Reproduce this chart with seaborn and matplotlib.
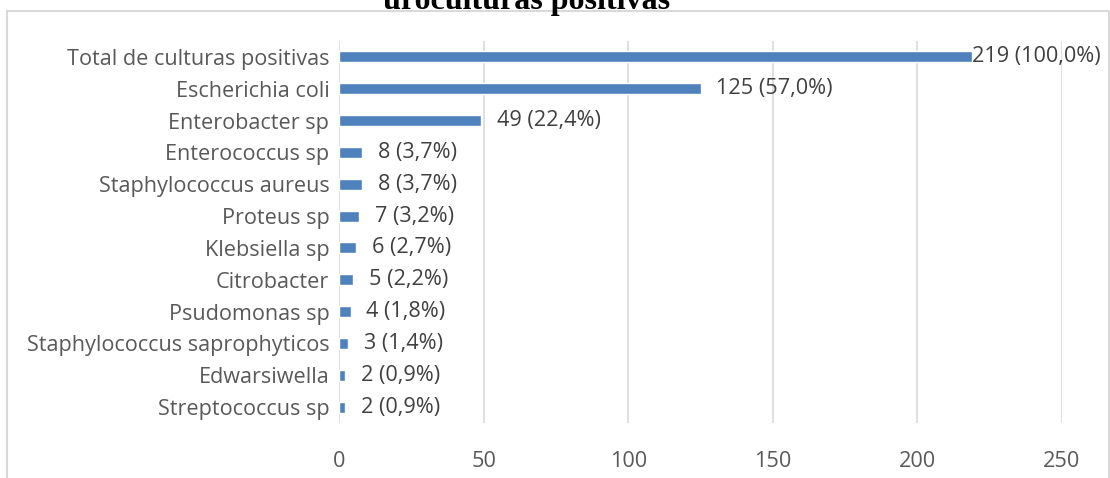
import matplotlib
matplotlib.use("Agg")
import matplotlib.pyplot as plt
import seaborn as sns
import pandas as pd
from matplotlib.patches import Rectangle

categories = ["Total de culturas positivas", "Escherichia coli", "Enterobacter sp",
              "Enterococcus sp", "Staphylococcus aureus", "Proteus sp", "Klebsiella sp",
              "Citrobacter", "Psudomonas sp", "Staphylococcus saprophyticos",
              "Edwarsiwella", "Streptococcus sp"]
counts = [219, 125, 49, 8, 8, 7, 6, 5, 4, 3, 2, 2]
labels = ["219 (100,0%)", "125 (57,0%)", "49 (22,4%)", "8 (3,7%)", "8 (3,7%)",
          "7 (3,2%)", "6 (2,7%)", "5 (2,2%)", "4 (1,8%)", "3 (1,4%)", "2 (0,9%)", "2 (0,9%)"]
xticks = [0, 50, 100, 150, 200, 250]
title = "uroculturas positivas"

df = pd.DataFrame({"cat": categories, "n": counts})

sns.set_style("white")
plt.rcParams['font.family'] = ['Open Sans', 'DejaVu Sans']

fig = plt.figure(figsize=(11.1, 4.78), dpi=100)
W, H = 1110, 478
ax = fig.add_axes([339 / W, 1 - 423 / H, (1062 - 339) / W, (423 - 41) / H])

sns.barplot(data=df, x="n", y="cat", orient="h", color="#4F81BD", saturation=1,
            width=0.35, ax=ax)

FS = 15.6
ax.set_xlim(0, 250)
ax.set_xticks(xticks)
ax.set_xlabel("")
ax.set_ylabel("")
ax.grid(axis="x", color="#d9d9d9", linewidth=1.2)
ax.set_axisbelow(True)
for s in ax.spines.values():
    s.set_visible(False)
ax.tick_params(axis="both", length=0, labelsize=FS, labelcolor="#595959")
ax.tick_params(axis="x", pad=20)
ax.tick_params(axis="y", pad=7)

for p, lab in zip(ax.patches, labels):
    ax.text(p.get_width() + (0 if p.get_width() > 200 else 5.5),
            p.get_y() + p.get_height() / 2, lab,
            va="center", ha="left", fontsize=FS, color="#404040")

fig.patches.append(Rectangle((7 / W, -0.05), (1109 - 7) / W, 1.05 - 11 / H,
                             transform=fig.transFigure, fill=False,
                             edgecolor="#d9d9d9", linewidth=1.5))
fig.text(527 / W, 1 - 9 / H, title, ha="center", va="baseline",
         fontsize=23, fontweight="bold", family="Liberation Serif", color="black")

fig.savefig("out.png", dpi=100)
